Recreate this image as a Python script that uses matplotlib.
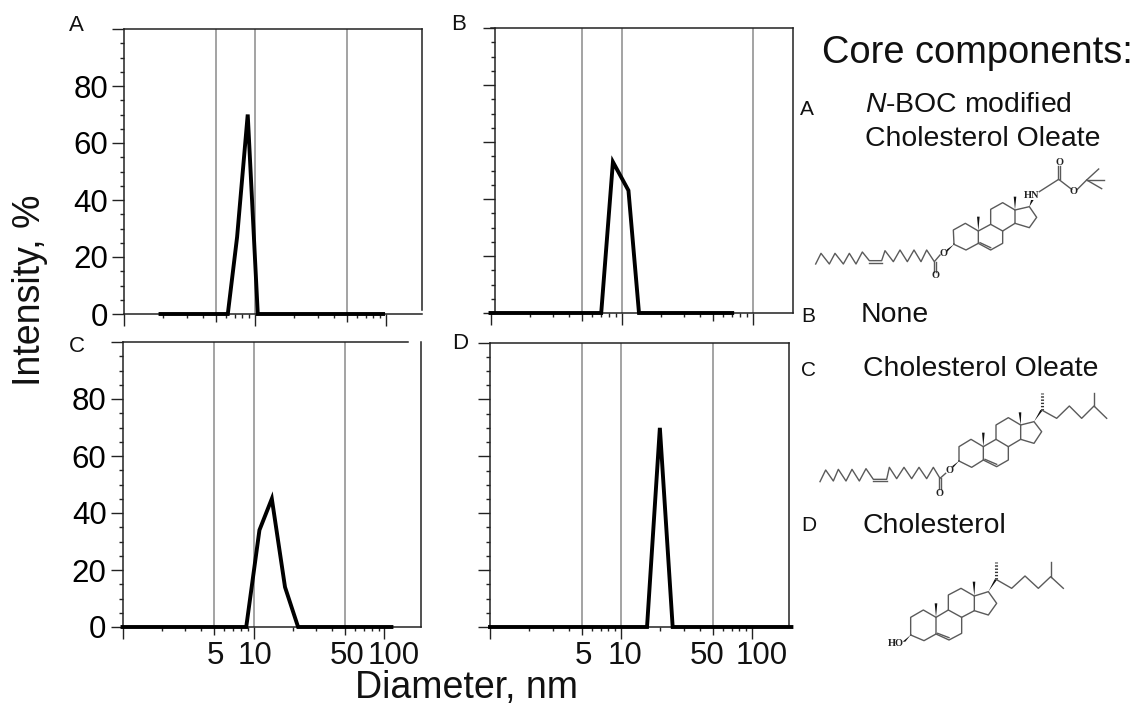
import matplotlib
matplotlib.use('Agg')
from matplotlib import pyplot as plt
from matplotlib.lines import Line2D
from matplotlib.patches import Polygon

plt.rcParams['font.family'] = ['Liberation Sans', 'DejaVu Sans']
plt.rcParams['mathtext.fontset'] = 'custom'
plt.rcParams['mathtext.it'] = 'Liberation Sans:italic'

W = 1137
H = 707

# size distributions
a_d = [1.9, 6.2, 7.3, 8.8, 10.5, 95]
a_i = [0, 0, 27, 70, 0, 0]
b_d = [1.0, 7.0, 8.6, 11.3, 13.6, 70]
b_i = [0, 0, 53, 43, 0, 0]
c_d = [1.0, 8.8, 11.1, 13.8, 17.4, 21.9, 113]
c_i = [0, 0, 34, 45, 14, 0, 0]
d_d = [1.0, 15.8, 19.8, 24.8, 200]
d_i = [0, 0, 70, 0, 0]

y_major = [0, 20, 40, 60, 80, 100]
y_labels = ['0', '20', '40', '60', '80', '']
y_minor = [5, 10, 15, 25, 30, 35, 45, 50, 55, 65, 70, 75, 85, 90, 95]
x_major = [1, 10, 100]
x_mid = [5, 50]
x_minor = [2, 3, 4, 6, 7, 8, 9, 20, 30, 40, 60, 70, 80, 90]

fig = plt.figure(figsize=(W / 100, H / 100), dpi=100)


def px(x, y):
    return x / W, 1 - y / H


def label(x, y, s, size, **kw):
    fx, fy = px(x, y)
    fig.text(fx, fy, s, fontsize=size, va='baseline', color='#111111', **kw)


def panel(box, d, i, grid, show_y):
    left, top, right, bottom = box
    ax = fig.add_axes([left / W, 1 - bottom / H, (right - left) / W, (bottom - top) / H])
    ax.set_xscale('log')
    for g in grid:
        ax.axvline(g, color='#8a8a8a', lw=1.1, zorder=1)
    ax.vlines(x_mid, -2.8, 0, color='#222222', lw=1, clip_on=False)
    ax.plot(d, i, color='black', lw=2.8, clip_on=False, zorder=3, solid_joinstyle='miter')
    # every panel runs at 131 px per decade
    ax.set_xlim(1, 10 ** ((right - left) / 131))
    ax.set_ylim(0, 100)
    ax.set_xticks(x_major)
    ax.set_xticks(x_minor, minor=True)
    ax.set_xticklabels([])
    ax.set_xticklabels([], minor=True)
    ax.set_yticks(y_major)
    ax.set_yticks(y_minor, minor=True)
    ax.set_yticklabels(y_labels if show_y else [''] * len(y_major), fontsize=22.5)
    ax.tick_params(axis='both', which='major', length=8.5, width=1, color='#222222', pad=3)
    ax.tick_params(axis='both', which='minor', length=3.2, width=1, color='#222222')
    for s in ax.spines.values():
        s.set_linewidth(1.1)
        s.set_color('#222222')
    return ax


ax_a = panel((124, 29, 422, 314), a_d, a_i, [5, 10, 50], True)
ax_b = panel((490.5, 28, 793, 313), b_d, b_i, [5, 10, 100], False)
ax_c = panel((122.5, 342, 421, 627), c_d, c_i, [5, 10, 50], True)
ax_d = panel((490, 342.5, 789, 627), d_d, d_i, [5, 10, 50], False)

ax_b.spines['left'].set_position(('outward', -3))
ax_a.spines['right'].set_bounds(1.5, 100)
ax_c.spines['top'].set_bounds(1, 150)

# panel letters
label(69, 31, 'A', 16)
label(451, 30, 'B', 16)
label(69, 352, 'C', 16)
label(452, 349, 'D', 16)

# x tick labels sit a bit off their ticks in the original
for x, s in [(215, '5'), (255.5, '10'), (347, '50'), (394, '100'),
             (583, '5'), (625, '10'), (707, '50'), (762, '100')]:
    label(x, 664, s, 22.5, ha='center')

fx, fy = px(30, 290)
fig.text(fx, fy, 'Intensity, %', fontsize=27, rotation=90, ha='center', va='center', color='#111111')
label(355, 698, 'Diameter, nm', 27)

label(822, 63, 'Core components:', 27.4)
label(800, 115, 'A', 15)
label(865, 112, r'$\mathit{N}$-BOC modified', 20.4)
label(865, 146, 'Cholesterol Oleate', 20.4)
label(801, 322, 'B', 15)
label(861, 322, 'None', 20.4)
label(801, 376, 'C', 15)
label(863, 376, 'Cholesterol Oleate', 20.4)
label(801, 531, 'D', 15)
label(863, 533, 'Cholesterol', 20.4)


# structure drawings, traced in pixels of the zoomed crops (3x)
def bond(pts, ox, oy, lw=1.0, color='#5a5a5a', ls='-'):
    xs = [px(ox + p[0] / 3, oy + p[1] / 3)[0] for p in pts]
    ys = [px(ox + p[0] / 3, oy + p[1] / 3)[1] for p in pts]
    fig.add_artist(Line2D(xs, ys, transform=fig.transFigure, color=color, lw=lw, ls=ls))


def hashed(p0, p1, ox, oy):
    bond([p0, p1], ox, oy, lw=2.2, color='#333333', ls=(0, (0.45, 0.6)))


def wedge(p0, p1, ox, oy):
    a = px(ox + p0[0] / 3, oy + p0[1] / 3)
    dx = 1.3 / W
    dy = 1.3 / H
    b = px(ox + p1[0] / 3, oy + p1[1] / 3)
    ny = abs(p1[0] - p0[0]) > abs(p1[1] - p0[1])
    if ny:
        c, d = (b[0], b[1] + dy), (b[0], b[1] - dy)
    else:
        c, d = (b[0] + dx, b[1]), (b[0] - dx, b[1])
    fig.add_artist(Polygon([a, c, d], closed=True, transform=fig.transFigure, color='#111111', lw=0))


def atom(x, y, s, ox, oy, size=7.5):
    fx, fy = px(ox + x / 3, oy + y / 3)
    fig.text(fx, fy, s, fontsize=size, ha='center', va='center', color='#222222',
             family='Liberation Serif', fontweight='bold')


ox, oy = 780, 130
bond([(107, 402), (123, 370), (148, 402), (165, 370), (190, 402), (208, 370), (228, 402), (247, 366),
      (268, 392), (305, 392), (315, 362), (340, 395), (360, 360), (382, 395), (402, 360), (423, 395),
      (440, 360), (463, 395), (480, 375)], ox, oy)
bond([(268, 398), (305, 398)], ox, oy)
bond([(461, 395), (461, 425)], ox, oy)
bond([(468, 395), (468, 425)], ox, oy)
atom(465, 436, 'O', ox, oy)
atom(491, 369, 'O', ox, oy)
wedge((522, 343), (501, 362), ox, oy)
bond([(522, 343), (520, 300), (556, 280), (595, 303), (595, 340), (558, 360), (522, 343)], ox, oy)
bond([(595, 303), (632, 283), (668, 303), (668, 340), (632, 360), (595, 340)], ox, oy)
bond([(600, 338), (632, 353)], ox, oy)
bond([(632, 283), (632, 238), (668, 218), (705, 240), (705, 280), (668, 303)], ox, oy)
bond([(705, 240), (748, 230), (770, 262), (748, 293), (705, 280)], ox, oy)
wedge((595, 303), (595, 260), ox, oy)
wedge((705, 240), (705, 200), ox, oy)
wedge((748, 230), (757, 210), ox, oy)
atom(755, 195, 'HN', ox, oy)
bond([(778, 185), (836, 148), (875, 178)], ox, oy)
bond([(833, 148), (833, 107)], ox, oy)
bond([(840, 148), (840, 107)], ox, oy)
atom(838, 97, 'O', ox, oy)
atom(882, 186, 'O', ox, oy)
bond([(892, 178), (920, 150), (956, 117)], ox, oy)
bond([(920, 150), (972, 150)], ox, oy)
bond([(920, 150), (965, 176)], ox, oy)

ox, oy = 780, 380
bond([(120, 305), (137, 270), (160, 303), (175, 268), (198, 303), (216, 268), (238, 303), (258, 266),
      (280, 298), (320, 298), (328, 262), (350, 296), (372, 262), (395, 296), (417, 262), (440, 296),
      (460, 262), (480, 295), (497, 280)], ox, oy)
bond([(280, 303), (320, 303)], ox, oy)
bond([(477, 295), (477, 328)], ox, oy)
bond([(484, 295), (484, 328)], ox, oy)
atom(480, 342, 'O', ox, oy)
atom(507, 272, 'O', ox, oy)
wedge((537, 243), (517, 262), ox, oy)
bond([(537, 243), (537, 200), (573, 178), (610, 200), (610, 240), (575, 262), (537, 243)], ox, oy)
bond([(610, 200), (648, 178), (685, 200), (685, 240), (650, 260), (610, 240)], ox, oy)
bond([(615, 238), (650, 253)], ox, oy)
bond([(648, 178), (648, 135), (685, 113), (722, 135), (722, 178), (685, 200)], ox, oy)
bond([(722, 135), (762, 125), (785, 155), (762, 190), (722, 178)], ox, oy)
wedge((610, 200), (610, 158), ox, oy)
wedge((722, 135), (720, 97), ox, oy)
wedge((762, 125), (785, 90), ox, oy)
hashed((785, 90), (785, 40), ox, oy)
bond([(785, 90), (830, 115), (868, 78), (905, 115), (942, 78), (980, 115)], ox, oy)
bond([(942, 78), (942, 38)], ox, oy)

bond([(392, 765), (392, 712), (430, 690), (468, 712), (468, 762), (432, 782), (392, 765)], ox, oy)
bond([(468, 712), (505, 690), (545, 712), (545, 760), (507, 780), (468, 762)], ox, oy)
bond([(473, 760), (507, 773)], ox, oy)
bond([(505, 690), (505, 645), (543, 625), (583, 648), (583, 692), (545, 712)], ox, oy)
bond([(583, 648), (625, 635), (650, 670), (625, 705), (583, 692)], ox, oy)
wedge((468, 712), (468, 670), ox, oy)
wedge((583, 648), (582, 605), ox, oy)
wedge((625, 635), (648, 598), ox, oy)
hashed((648, 598), (648, 545), ox, oy)
bond([(648, 598), (695, 625), (735, 588), (775, 625), (812, 590), (850, 625)], ox, oy)
bond([(812, 590), (812, 545)], ox, oy)
wedge((392, 765), (372, 785), ox, oy)
atom(347, 790, 'HO', ox, oy)

fig.savefig('out.png', dpi=100)
